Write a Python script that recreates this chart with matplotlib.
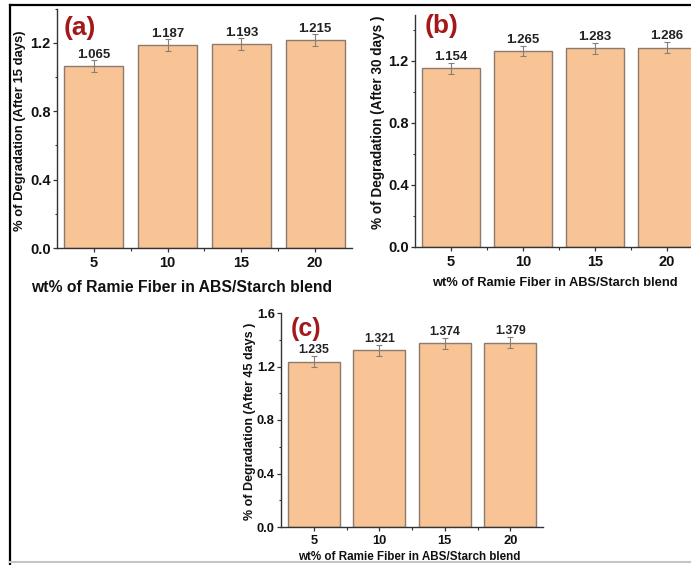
import matplotlib
matplotlib.use("Agg")
import matplotlib.pyplot as plt
from matplotlib.lines import Line2D
from matplotlib.ticker import MultipleLocator, FixedLocator

plt.rcParams['font.family'] = ['Liberation Sans', 'DejaVu Sans']
plt.rcParams['font.weight'] = 'bold'

W, H = 691, 565

fiber_wt = ["5", "10", "15", "20"]
deg_15 = [1.065, 1.187, 1.193, 1.215]
deg_30 = [1.154, 1.265, 1.283, 1.286]
deg_45 = [1.235, 1.321, 1.374, 1.379]
err_15 = [0.035, 0.035, 0.035, 0.035]
err_30 = [0.035, 0.035, 0.035, 0.035]
err_45 = [0.04, 0.04, 0.04, 0.04]

BAR = "#F8C495"
EDGE = "#8C7A6E"
RED = "#A3181A"

fig = plt.figure(figsize=(W / 100, H / 100), dpi=100)


def fx(x):
    return x / W


def fy(y):
    return 1 - y / H


def panel(left, right, bottom, top, ymax, vals, errs, ylabel, tag,
          tag_xy, ylab_xy, xlab_xy, tick_fs, val_fs, lab_fs, xlab_fs, tag_fs, yticks):
    ax = fig.add_axes([fx(left), fy(bottom), fx(right - left), (bottom - top) / H])
    pos = list(range(1, len(vals) + 1))
    ax.bar(pos, vals, width=0.8, color=BAR, edgecolor=EDGE, linewidth=1.0,
           yerr=errs, error_kw=dict(ecolor="#8a7d76", elinewidth=0.8,
                                    capsize=2, capthick=0.8), zorder=2)
    for p, v, e in zip(pos, vals, errs):
        ax.annotate(f"{v:.3f}", (p, v), xytext=(0, 6), textcoords="offset points",
                    ha="center", va="baseline", fontsize=val_fs,
                    fontweight="bold", color="#222222")
    ax.set_xlim(0.5, 4.5)
    ax.set_ylim(0, ymax)
    ax.set_xticks(pos)
    ax.set_xticklabels(fiber_wt)
    ax.xaxis.set_minor_locator(FixedLocator([1.5, 2.5, 3.5]))
    ax.set_yticks(yticks)
    ax.set_yticklabels([f"{t:.1f}" for t in yticks])
    ax.yaxis.set_minor_locator(MultipleLocator(0.2))
    for s in ("top", "right"):
        ax.spines[s].set_visible(False)
    for s in ("left", "bottom"):
        ax.spines[s].set_color("#333333")
        ax.spines[s].set_linewidth(1.0)
    ax.tick_params(which="major", length=3, width=0.9, color="#333333",
                   labelsize=tick_fs, labelcolor="#111111")
    ax.tick_params(axis="y", which="major", pad=1.5)
    ax.tick_params(axis="x", which="major", pad=3)
    ax.tick_params(which="minor", length=1.8, width=0.8, color="#333333")
    for lab in ax.get_xticklabels() + ax.get_yticklabels():
        lab.set_fontweight("bold")
    fig.text(fx(tag_xy[0]), fy(tag_xy[1]), tag, color=RED, fontsize=tag_fs,
             fontweight="bold", ha="center", va="center")
    fig.text(fx(ylab_xy[0]), fy(ylab_xy[1]), ylabel, rotation=90,
             fontsize=lab_fs, fontweight="bold", ha="center", va="center",
             color="#111111")
    fig.text(fx(xlab_xy[0]), fy(xlab_xy[1]), "wt% of Ramie Fiber in ABS/Starch blend",
             fontsize=xlab_fs, fontweight="bold", ha="center", va="center",
             color="#111111")
    return ax


panel(57, 352, 248, 248 - 1.4 * 171, 1.4, deg_15, err_15,
      "% of Degradation (After 15 days)", "(a)",
      (80, 28), (20, 131), (182, 287), 10.5, 9.5, 9.4, 11.3, 19,
      [0.0, 0.4, 0.8, 1.2])
panel(415, 703, 247, 247 - 1.5 * 155, 1.5, deg_30, err_30,
      "% of Degradation (After 30 days )", "(b)",
      (442, 26), (378, 122), (555, 283), 10.5, 9.5, 9.8, 9.3, 19,
      [0.0, 0.4, 0.8, 1.2])
panel(281, 543, 527, 313, 1.6, deg_45, err_45,
      "% of Degradation (After 45 days )", "(c)",
      (306, 329), (250, 421), (409, 557), 9.3, 8.8, 9.0, 8.4, 18,
      [0.0, 0.4, 0.8, 1.2, 1.6])

# frame around the composite
fig.add_artist(Line2D([fx(10), 1], [fy(5), fy(5)], color="black", linewidth=1.6))
fig.add_artist(Line2D([fx(10), fx(10)], [fy(5), 0], color="black", linewidth=1.6))
fig.add_artist(Line2D([fx(10), 1], [fy(562), fy(562)], color="#c4c4c4", linewidth=1.5))

fig.savefig("out.png", dpi=100)
